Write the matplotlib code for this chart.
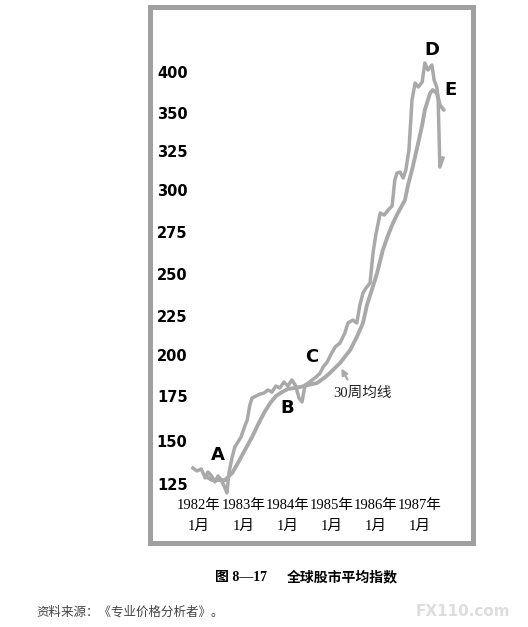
import numpy as np
import matplotlib.pyplot as plt
from matplotlib.ticker import NullLocator

# world index (year, index value)
price_t = [1981.86, 1981.95, 1982.05, 1982.14, 1982.20, 1982.27, 1982.36, 1982.43, 1982.50,
           1982.57, 1982.63, 1982.68, 1982.75, 1982.81, 1982.88, 1982.95, 1983.02, 1983.09,
           1983.15, 1983.20, 1983.29, 1983.38, 1983.47, 1983.56, 1983.65, 1983.74, 1983.83,
           1983.92, 1984.01, 1984.10, 1984.19, 1984.26, 1984.33, 1984.40, 1984.47, 1984.56,
           1984.65, 1984.74, 1984.81, 1984.90, 1984.99, 1985.08, 1985.19, 1985.30, 1985.37,
           1985.48, 1985.57, 1985.64, 1985.71, 1985.78, 1985.87, 1985.94, 1986.00, 1986.10,
           1986.19, 1986.28, 1986.37, 1986.43, 1986.48, 1986.55, 1986.62, 1986.68, 1986.75,
           1986.82, 1986.89, 1986.96, 1987.05, 1987.11, 1987.18, 1987.27, 1987.32, 1987.38,
           1987.41, 1987.45, 1987.52]
price_v = [134.3, 132.6, 133.7, 128.5, 132.0, 130.2, 126.2, 129.7, 127.3,
           123.8, 119.8, 132.0, 140.7, 146.5, 149.4, 152.2, 157.2, 161.7,
           170.0, 173.9, 175.0, 176.2, 176.8, 178.7, 177.4, 181.1, 179.9,
           183.5, 181.1, 184.8, 181.1, 173.9, 171.7, 181.7, 182.9, 184.8,
           186.6, 189.0, 192.7, 195.7, 200.6, 205.1, 207.7, 214.1, 220.5,
           222.4, 220.5, 231.5, 238.7, 241.7, 244.6, 263.1, 273.2, 286.3,
           285.1, 288.1, 290.5, 306.4, 310.9, 311.5, 307.7, 312.8, 325.7,
           365.9, 386.6, 381.7, 387.8, 411.0, 402.4, 408.5, 390.2, 381.7,
           369.5, 314.7, 320.5]

# 30-week moving average
ma_t = [1982.14, 1982.29, 1982.43, 1982.59, 1982.75, 1982.88, 1983.04, 1983.20, 1983.33,
        1983.47, 1983.61, 1983.74, 1983.88, 1984.01, 1984.17, 1984.29, 1984.47, 1984.67,
        1984.83, 1984.96, 1985.19, 1985.42, 1985.57, 1985.71, 1985.80, 1985.91, 1986.03,
        1986.16, 1986.28, 1986.39, 1986.50, 1986.66, 1986.73, 1986.82, 1986.96, 1987.05,
        1987.11, 1987.23, 1987.29, 1987.38, 1987.45, 1987.54]
ma_v = [129.7, 127.3, 127.3, 127.3, 131.4, 137.2, 144.8, 152.2, 158.9,
        165.6, 171.1, 175.0, 177.4, 179.3, 179.9, 180.5, 181.7, 182.9,
        186.0, 189.0, 195.1, 203.2, 211.5, 220.5, 231.5, 240.5, 250.6,
        264.3, 273.2, 280.4, 286.3, 294.0, 303.2, 312.8, 330.3, 342.1,
        353.7, 374.4, 378.0, 374.4, 359.8, 353.7]

year_ticks = [1982, 1983, 1984, 1985, 1986, 1987]
year_labels = [f'{y}年\n1月' for y in year_ticks]
y_ticks = [125, 150, 175, 200, 225, 250, 275, 300, 325, 350, 400]

# point labels on the chart
marks = ['A', 'B', 'C', 'D', 'E']
marks_t = [1982.43, 1983.99, 1984.56, 1987.27, 1987.70]
marks_v = [141.9, 168.3, 198.8, 426.8, 378.0]

# the printed value axis is not evenly spaced -> piecewise scale
scale_vals = [80] + y_ticks + [500]
scale_pos = [-18.4, 59, 102, 147, 188, 227, 269, 311, 353, 392, 430, 471, 553]

def fwd(v):
    return np.interp(v, scale_vals, scale_pos)

def inv(p):
    return np.interp(p, scale_pos, scale_vals)

cjk = ['Liberation Serif', 'Noto Sans CJK SC']
gray = '#a9a9a9'

fig = plt.figure(figsize=(5.28, 6.27), dpi=100)
ax = fig.add_axes([150/528, 84/627, 323/528, 536/627])

ax.plot(ma_t, ma_v, color=gray, lw=2.8, solid_capstyle='round', solid_joinstyle='round')
ax.plot(price_t, price_v, color=gray, lw=2.5, solid_joinstyle='round')

ax.set_yscale('function', functions=(fwd, inv))
ax.set_xlim(1980.89, 1988.20)
ax.set_ylim(inv(0), inv(536))

ax.set_yticks(y_ticks)
ax.set_yticklabels([str(v) for v in y_ticks], fontweight='bold', fontsize=10.5,
                   family='DejaVu Sans')
ax.yaxis.set_minor_locator(NullLocator())
ax.tick_params(axis='y', length=0, pad=-27)

ax.set_xticks(year_ticks)
ax.set_xticklabels(year_labels, family=cjk, fontsize=10.5, linespacing=1.8)
ax.tick_params(axis='x', length=0, pad=-32)

for s in ax.spines.values():
    s.set_color('#a0a0a0')
    s.set_linewidth(3.6)

for m, t, v in zip(marks, marks_t, marks_v):
    ax.text(t, v, m, ha='center', va='center', fontsize=13, fontweight='bold',
            family='DejaVu Sans')

ax.text(1985.03, 176.8, '30周均线', family=cjk, fontsize=10.5, ha='left', va='center',
        color='#222222')
ax.annotate('', xy=(1985.19, 193.3), xytext=(1985.39, 183.5),
            arrowprops=dict(arrowstyle='-|>', color=gray, lw=1.6, mutation_scale=9))

fig.text(215/528, 1 - 577/627, '图 8—17', family=cjk, fontsize=10, fontweight='bold',
         ha='left', va='center')
fig.text(287/528, 1 - 577/627, '全球股市平均指数', family=cjk, fontsize=10, fontweight='bold',
         ha='left', va='center')
fig.text(36/528, 1 - 612/627, '资料来源：《专业价格分析者》。', family=cjk, fontsize=9,
         ha='left', va='center', color='#444444')
fig.text(510/528, 1 - 612/627, 'FX110.com', fontsize=11, fontweight='bold',
         ha='right', va='center', color='#dddddd')

fig.savefig('out.png', dpi=100)
